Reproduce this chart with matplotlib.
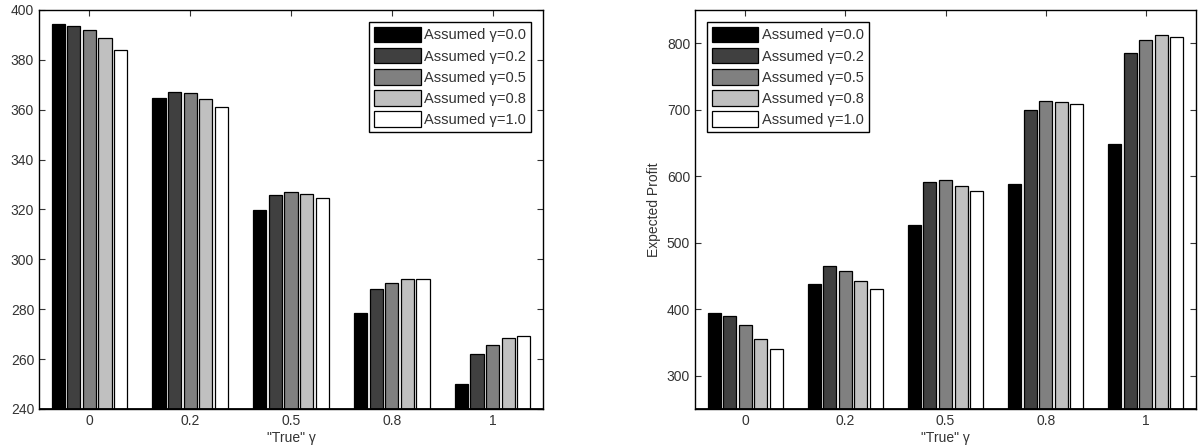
import numpy as np
import matplotlib.pyplot as plt

plt.rcParams['font.family'] = ['Liberation Sans', 'DejaVu Sans']
plt.rcParams['font.size'] = 10

true_gamma = ['0', '0.2', '0.5', '0.8', '1']
assumed = ['Assumed γ=0.0', 'Assumed γ=0.2', 'Assumed γ=0.5',
           'Assumed γ=0.8', 'Assumed γ=1.0']
colors = ['#000000', '#404040', '#808080', '#c0c0c0', '#ffffff']

# left panel, one row per assumed gamma
left_vals = [
    [394.4, 364.9, 319.7, 278.6, 249.9],
    [393.7, 367.0, 325.7, 288.3, 261.9],
    [392.0, 366.6, 326.9, 290.5, 265.8],
    [388.6, 364.5, 326.2, 292.1, 268.3],
    [384.0, 361.1, 324.6, 292.1, 269.4],
]

# right panel: expected profit
right_vals = [
    [394, 438, 527, 588, 648],
    [390, 465, 591, 699, 786],
    [377, 458, 594, 713, 805],
    [355, 442, 586, 712, 812],
    [340, 430, 578, 708, 809],
]


def draw(ax, vals, ylim, legend_loc):
    x = np.arange(1, len(true_gamma) + 1)
    pitch = 0.155
    for i, row in enumerate(vals):
        ax.bar(x + (i - 2) * pitch, np.array(row) - ylim[0], width=0.13,
               bottom=ylim[0], color=colors[i], edgecolor='black',
               linewidth=0.9, label=assumed[i], zorder=2)
    ax.axhline(ylim[0], color='black', lw=2, zorder=3)
    ax.set_xlim(0.5, 5.5)
    ax.set_ylim(*ylim)
    ax.set_xticks(x)
    ax.set_xticklabels(true_gamma)
    ax.set_xlabel('"True" γ', labelpad=2, color='#333333')
    ax.tick_params(direction='in', top=True, right=True, length=4,
                   colors='#333333', labelcolor='#333333')
    for s in ax.spines.values():
        s.set_linewidth(1.0)
    leg = ax.legend(loc=legend_loc, fancybox=False, framealpha=1,
                    edgecolor='black', handlelength=3.2, handleheight=1.25,
                    labelspacing=0.38, borderpad=0.35, handletextpad=0.25,
                    borderaxespad=0.8, fontsize=10.5)
    leg.get_frame().set_linewidth(1.0)
    for t in leg.get_texts():
        t.set_color('#333333')


fig = plt.figure(figsize=(12.03, 4.46), dpi=100)
ax1 = fig.add_axes([39 / 1203, 1 - 409 / 446, 504 / 1203, 399 / 446])
ax2 = fig.add_axes([695 / 1203, 1 - 409 / 446, 501 / 1203, 399 / 446])

draw(ax1, left_vals, (240, 400), 'upper right')
ax1.set_yticks(np.arange(240, 401, 20))

draw(ax2, right_vals, (250, 850), 'upper left')
ax2.set_yticks(np.arange(300, 801, 100))
ax2.set_ylabel('Expected Profit', color='#333333')

fig.savefig('out.png', dpi=100)
